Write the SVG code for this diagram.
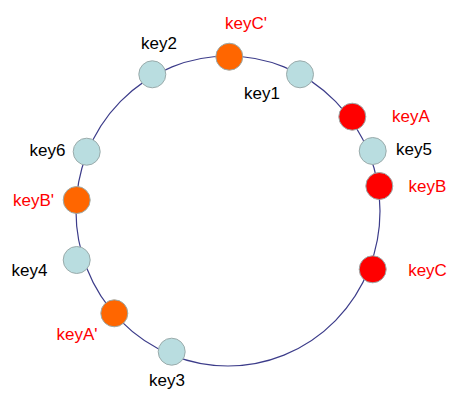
<svg xmlns="http://www.w3.org/2000/svg" width="463" height="400" viewBox="0 0 463 400">
<style>
.ring{fill:none;stroke:#3c3c8a;stroke-width:1.2}
.n{stroke:#9aabab;stroke-width:1}
.blue{fill:#b9dde0}
.org{fill:#ff6600}
.red{fill:#ff0000}
text{font-family:"Liberation Sans",Arial,sans-serif;font-size:17px;text-anchor:middle}
.lr{fill:#ff0000}
.lb{fill:#000000}
</style>
<rect width="463" height="400" fill="#ffffff"/>
<g id="connectors">
<ellipse class="ring" cx="228" cy="211" rx="152" ry="155"/>
</g>
<g id="keyC_"><circle class="n org" cx="229.3" cy="56.7" r="13.5"/><text class="lr" x="246" y="29">keyC'</text></g>
<g id="key2"><circle class="n blue" cx="152.3" cy="74.3" r="13.5"/><text class="lb" x="159" y="48.5">key2</text></g>
<g id="key1"><circle class="n blue" cx="300" cy="74.3" r="13.5"/><text class="lb" x="262" y="99">key1</text></g>
<g id="keyA"><circle class="n red" cx="352.3" cy="116.7" r="13.5"/><text class="lr" x="411" y="122">keyA</text></g>
<g id="key5"><circle class="n blue" cx="372.7" cy="151" r="13.5"/><text class="lb" x="414" y="155">key5</text></g>
<g id="keyB"><circle class="n red" cx="379.3" cy="186" r="13.5"/><text class="lr" x="427.5" y="192">keyB</text></g>
<g id="keyC"><circle class="n red" cx="372.7" cy="269.3" r="13.5"/><text class="lr" x="427.5" y="276">keyC</text></g>
<g id="key6"><circle class="n blue" cx="86.7" cy="151.7" r="13.5"/><text class="lb" x="47.5" y="156">key6</text></g>
<g id="keyB_"><circle class="n org" cx="76.7" cy="200" r="13.5"/><text class="lr" x="33.5" y="206">keyB'</text></g>
<g id="key4"><circle class="n blue" cx="76.7" cy="260" r="13.5"/><text class="lb" x="29.5" y="276">key4</text></g>
<g id="keyA_"><circle class="n org" cx="114.3" cy="313.3" r="13.5"/><text class="lr" x="77" y="340">keyA'</text></g>
<g id="key3"><circle class="n blue" cx="171.7" cy="351.7" r="13.5"/><text class="lb" x="167" y="386">key3</text></g>
</svg>
